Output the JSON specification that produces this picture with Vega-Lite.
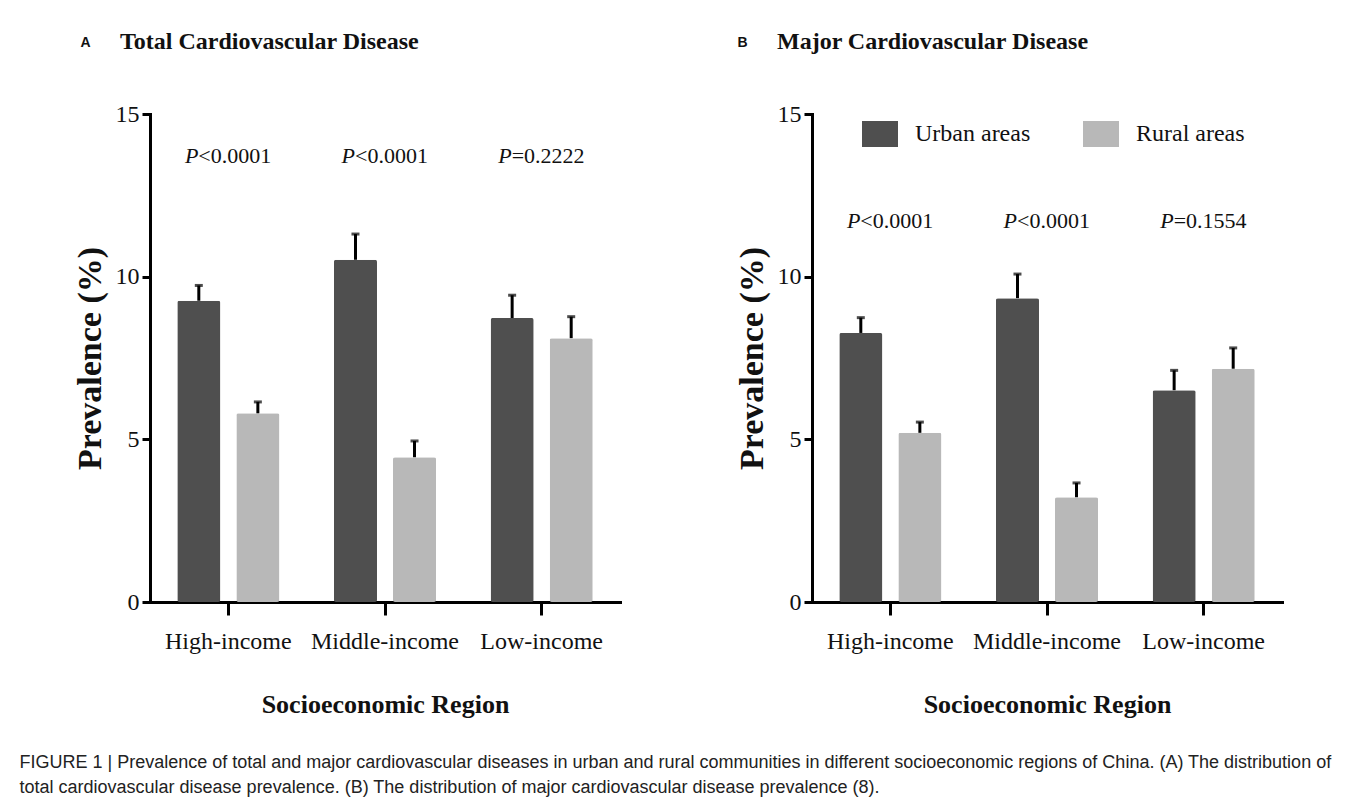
{
  "$schema": "https://vega.github.io/schema/vega-lite/v6.json",
  "autosize": {"type": "pad"},
  "padding": {"left": 19, "top": 30, "right": 5, "bottom": 5},
  "spacing": 115,
  "title": {
    "text": [
      "FIGURE 1 | Prevalence of total and major cardiovascular diseases in urban and rural communities in different socioeconomic regions of China. (A) The distribution of",
      "total cardiovascular disease prevalence. (B) The distribution of major cardiovascular disease prevalence (8)."
    ],
    "orient": "bottom",
    "anchor": "start",
    "frame": "bounds",
    "dx": -53.5,
    "offset": 37,
    "font": "Liberation Sans",
    "fontSize": 18,
    "fontWeight": "normal",
    "lineHeight": 25,
    "color": "#222"
  },
  "resolve": {"scale": {"color": "independent"}, "legend": {"color": "independent"}},
  "hconcat": [
    {
      "width": 470,
      "height": 488,
      "title": {
        "text": "Total Cardiovascular Disease",
        "anchor": "start",
        "frame": "group",
        "dx": -30,
        "offset": -19,
        "font": "Liberation Serif",
        "fontSize": 24,
        "fontWeight": "bold",
        "color": "#111"
      },
      "resolve": {"axis": {"x": "independent"}},
      "data": {"values": [
        {"region": "High-income", "area": "Urban areas", "value": 9.26, "upper": 9.73},
        {"region": "High-income", "area": "Rural areas", "value": 5.80, "upper": 6.15},
        {"region": "Middle-income", "area": "Urban areas", "value": 10.52, "upper": 11.31},
        {"region": "Middle-income", "area": "Rural areas", "value": 4.45, "upper": 4.95},
        {"region": "Low-income", "area": "Urban areas", "value": 8.73, "upper": 9.43},
        {"region": "Low-income", "area": "Rural areas", "value": 8.11, "upper": 8.77}
      ]},
      "layer": [
        {
          "mark": {"type": "bar", "cornerRadius": 2},
          "encoding": {
            "x": {"field": "region", "type": "nominal", "sort": ["High-income", "Middle-income", "Low-income"], "scale": {"paddingInner": 0, "paddingOuter": 0}, "axis": {"orient": "bottom", "title": "Socioeconomic Region"}},
            "xOffset": {"field": "area", "type": "nominal", "sort": ["Urban areas", "Rural areas"], "scale": {"paddingInner": 0.271, "paddingOuter": 0.462}},
            "y": {"field": "value", "type": "quantitative", "scale": {"domain": [0, 15], "nice": false}, "axis": {"values": [0, 5, 10, 15]}, "title": "Prevalence (%)"},
            "color": {"field": "area", "type": "nominal", "scale": {"domain": ["Urban areas", "Rural areas"], "range": ["#4f4f4f", "#b8b8b8"]}, "legend": null}
          }
        },
        {
          "mark": {"type": "rule", "strokeWidth": 3, "color": "#000"},
          "encoding": {
            "x": {"field": "region", "type": "nominal", "sort": ["High-income", "Middle-income", "Low-income"], "axis": null},
            "xOffset": {"field": "area", "type": "nominal", "sort": ["Urban areas", "Rural areas"]},
            "y": {"field": "value", "type": "quantitative"},
            "y2": {"field": "upper"}
          }
        },
        {
          "mark": {"type": "tick", "size": 8, "thickness": 3, "color": "#000"},
          "encoding": {
            "x": {"field": "region", "type": "nominal", "sort": ["High-income", "Middle-income", "Low-income"], "axis": null},
            "xOffset": {"field": "area", "type": "nominal", "sort": ["Urban areas", "Rural areas"]},
            "y": {"field": "upper", "type": "quantitative"}
          }
        },
        {
          "data": {"values": [
            {"region": "High-income", "p": "<0.0001"},
            {"region": "Middle-income", "p": "<0.0001"},
            {"region": "Low-income", "p": "=0.2222"}
          ]},
          "mark": {"type": "text", "text": "P", "fontStyle": "italic", "align": "right", "baseline": "alphabetic", "dx": -30, "font": "Liberation Serif", "fontSize": 22, "color": "#111"},
          "encoding": {
            "x": {"field": "region", "type": "nominal", "sort": ["High-income", "Middle-income", "Low-income"], "axis": null},
            "y": {"datum": 13.5}
          }
        },
        {
          "data": {"values": [
            {"region": "High-income", "p": "<0.0001"},
            {"region": "Middle-income", "p": "<0.0001"},
            {"region": "Low-income", "p": "=0.2222"}
          ]},
          "mark": {"type": "text", "align": "left", "baseline": "alphabetic", "dx": -30, "font": "Liberation Serif", "fontSize": 22, "color": "#111"},
          "encoding": {
            "x": {
              "field": "region", "type": "nominal", "sort": ["High-income", "Middle-income", "Low-income"],
              "axis": {
                "orient": "top", "domain": false, "ticks": false, "labels": false,
                "title": "A", "titleFont": "Liberation Sans", "titleFontSize": 14, "titleFontWeight": "bold", "titleColor": "#111",
                "titleX": -70, "titleY": -68, "titleAlign": "left", "titleBaseline": "alphabetic", "titleAngle": 0
              }
            },
            "y": {"datum": 13.5},
            "text": {"field": "p", "type": "nominal"}
          }
        }
      ]
    },
    {
      "width": 470,
      "height": 488,
      "title": {
        "text": "Major Cardiovascular Disease",
        "anchor": "start",
        "frame": "group",
        "dx": -35,
        "offset": -19,
        "font": "Liberation Serif",
        "fontSize": 24,
        "fontWeight": "bold",
        "color": "#111"
      },
      "resolve": {"axis": {"x": "independent"}},
      "data": {"values": [
        {"region": "High-income", "area": "Urban areas", "value": 8.27, "upper": 8.74},
        {"region": "High-income", "area": "Rural areas", "value": 5.20, "upper": 5.53},
        {"region": "Middle-income", "area": "Urban areas", "value": 9.34, "upper": 10.08},
        {"region": "Middle-income", "area": "Rural areas", "value": 3.22, "upper": 3.66},
        {"region": "Low-income", "area": "Urban areas", "value": 6.51, "upper": 7.12},
        {"region": "Low-income", "area": "Rural areas", "value": 7.17, "upper": 7.81}
      ]},
      "layer": [
        {
          "mark": {"type": "bar", "cornerRadius": 2},
          "encoding": {
            "x": {"field": "region", "type": "nominal", "sort": ["High-income", "Middle-income", "Low-income"], "scale": {"paddingInner": 0, "paddingOuter": 0}, "axis": {"orient": "bottom", "title": "Socioeconomic Region"}},
            "xOffset": {"field": "area", "type": "nominal", "sort": ["Urban areas", "Rural areas"], "scale": {"paddingInner": 0.271, "paddingOuter": 0.462}},
            "y": {"field": "value", "type": "quantitative", "scale": {"domain": [0, 15], "nice": false}, "axis": {"values": [0, 5, 10, 15]}, "title": "Prevalence (%)"},
            "color": {
              "field": "area", "type": "nominal",
              "scale": {"domain": ["Urban areas", "Rural areas"], "range": ["#4f4f4f", "#b8b8b8"]},
              "legend": {
                "orient": "none", "legendX": 50, "legendY": 2, "direction": "horizontal", "title": null,
                "symbolType": "M-1,-0.72H1V0.72H-1Z", "symbolSize": 1296, "symbolStrokeWidth": 0, "symbolOpacity": 1,
                "labelFont": "Liberation Serif", "labelFontSize": 24, "labelOffset": 17, "columnPadding": 52,
                "labelColor": "#111", "padding": 0, "labelLimit": 300
              }
            }
          }
        },
        {
          "mark": {"type": "rule", "strokeWidth": 3, "color": "#000"},
          "encoding": {
            "x": {"field": "region", "type": "nominal", "sort": ["High-income", "Middle-income", "Low-income"], "axis": null},
            "xOffset": {"field": "area", "type": "nominal", "sort": ["Urban areas", "Rural areas"]},
            "y": {"field": "value", "type": "quantitative"},
            "y2": {"field": "upper"}
          }
        },
        {
          "mark": {"type": "tick", "size": 8, "thickness": 3, "color": "#000"},
          "encoding": {
            "x": {"field": "region", "type": "nominal", "sort": ["High-income", "Middle-income", "Low-income"], "axis": null},
            "xOffset": {"field": "area", "type": "nominal", "sort": ["Urban areas", "Rural areas"]},
            "y": {"field": "upper", "type": "quantitative"}
          }
        },
        {
          "data": {"values": [
            {"region": "High-income", "p": "<0.0001"},
            {"region": "Middle-income", "p": "<0.0001"},
            {"region": "Low-income", "p": "=0.1554"}
          ]},
          "mark": {"type": "text", "text": "P", "fontStyle": "italic", "align": "right", "baseline": "alphabetic", "dx": -30, "font": "Liberation Serif", "fontSize": 22, "color": "#111"},
          "encoding": {
            "x": {"field": "region", "type": "nominal", "sort": ["High-income", "Middle-income", "Low-income"], "axis": null},
            "y": {"datum": 11.5}
          }
        },
        {
          "data": {"values": [
            {"region": "High-income", "p": "<0.0001"},
            {"region": "Middle-income", "p": "<0.0001"},
            {"region": "Low-income", "p": "=0.1554"}
          ]},
          "mark": {"type": "text", "align": "left", "baseline": "alphabetic", "dx": -30, "font": "Liberation Serif", "fontSize": 22, "color": "#111"},
          "encoding": {
            "x": {
              "field": "region", "type": "nominal", "sort": ["High-income", "Middle-income", "Low-income"],
              "axis": {
                "orient": "top", "domain": false, "ticks": false, "labels": false,
                "title": "B", "titleFont": "Liberation Sans", "titleFontSize": 14, "titleFontWeight": "bold", "titleColor": "#111",
                "titleX": -75, "titleY": -68, "titleAlign": "left", "titleBaseline": "alphabetic", "titleAngle": 0
              }
            },
            "y": {"datum": 11.5},
            "text": {"field": "p", "type": "nominal"}
          }
        }
      ]
    }
  ],
  "config": {
    "view": {"stroke": null},
    "axis": {
      "domainColor": "#000", "domainWidth": 3, "domainCap": "square",
      "tickColor": "#000", "tickWidth": 3,
      "labelFont": "Liberation Serif", "labelFontSize": 24, "labelColor": "#111",
      "labelOverlap": false, "labelLimit": 400, "labelBound": false,
      "titleFont": "Liberation Serif", "titleFontWeight": "bold", "titleColor": "#111",
      "grid": false
    },
    "axisX": {"tickSize": 13, "labelPadding": 14, "titleFontSize": 26, "titlePadding": 38, "labelAngle": 0},
    "axisY": {"tickSize": 8, "labelPadding": 3, "titleFontSize": 34, "titlePadding": 8}
  }
}
